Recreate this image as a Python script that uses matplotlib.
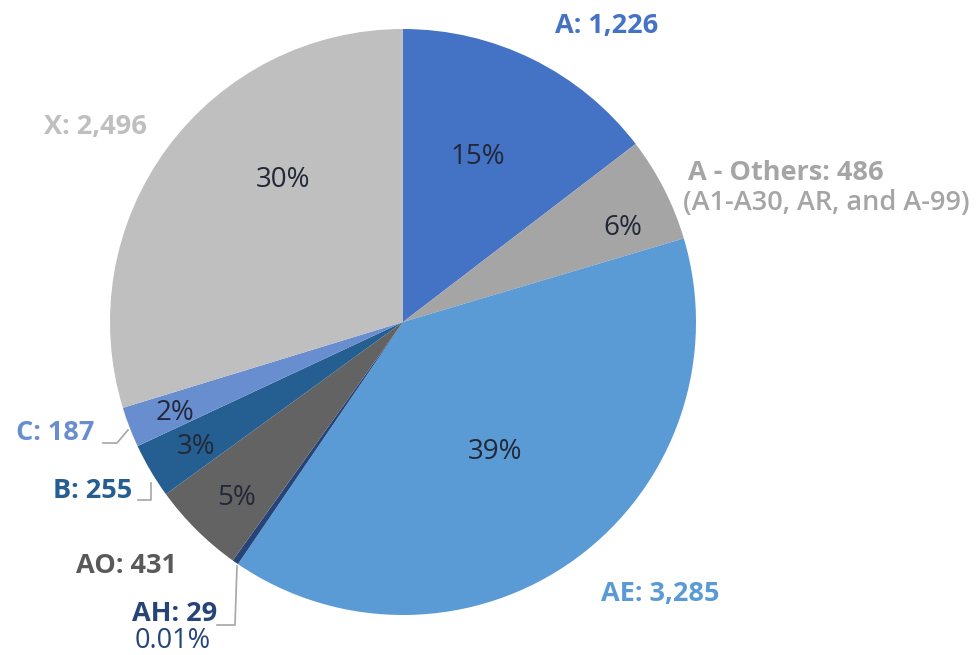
import matplotlib.pyplot as plt

# Data
labels = ['A', 'A - Others', 'AE', 'AH', 'AO', 'B', 'C', 'X']
values = [1226, 486, 3285, 29, 431, 255, 187, 2496]
pct_text = ['15%', '6%', '39%', '', '5%', '3%', '2%', '30%']
colors = ['#4472C4', '#A5A5A5', '#5B9BD5', '#264478', '#636363',
          '#255E91', '#698ED0', '#BFBFBF']
label_colors = ['#4472C4', '#A5A5A5', '#5B9BD5', '#264478', '#595959',
                '#255E91', '#698ED0', '#BFBFBF']

plt.rcParams['font.family'] = ['Open Sans', 'DejaVu Sans']

W, H = 980, 655
cx, cy, R = 403, 322, 293


def pu(px, py):
    # pixel -> pie units (center 0,0, radius 1)
    return (px - cx) / R, (cy - py) / R


fig = plt.figure(figsize=(W / 100, H / 100), dpi=100)
ax = fig.add_axes([0, 0, 1, 1])

wedges, _ = ax.pie(values, colors=colors, startangle=90, counterclock=False,
                   radius=1, wedgeprops=dict(linewidth=0))

# pie() resets the limits, so set them afterwards
ax.set_xlim(-cx / R, (W - cx) / R)
ax.set_ylim(-(H - cy) / R, cy / R)
ax.set_aspect('equal')
ax.axis('off')

# percent labels inside slices
pct_pos = [(478, 157), (623, 228), (495, 452), None, (237, 498),
           (196, 447), (175, 413), (283, 180)]
for t, p in zip(pct_text, pct_pos):
    if p is None:
        continue
    x, y = pu(*p)
    ax.text(x, y, t, ha='center', va='center', fontsize=20, color='#232838')

# outer category labels
def lab(i, px, py, text, ha='center', size=19.5, weight='bold'):
    x, y = pu(px, py)
    ax.text(x, y, text, ha=ha, va='center', fontsize=size,
            fontweight=weight, color=label_colors[i])

lab(0, 607, 26, 'A: 1,226')
lab(1, 688, 173, 'A - Others: 486', ha='left')
lab(1, 683, 203, '(A1-A30, AR, and A-99)', ha='left', weight='semibold')
lab(2, 660, 594, 'AE: 3,285')
lab(3, 217, 614, 'AH: 29', ha='right')
lab(3, 173, 641, '0.01%', weight='normal')
lab(4, 177, 566, 'AO: 431', ha='right')
lab(5, 132, 491, 'B: 255', ha='right')
lab(6, 94, 433, 'C: 187', ha='right')
lab(7, 147, 127, 'X: 2,496', ha='right')

# leader lines
leaders = [
    [(103, 443), (117, 443), (128, 430)],
    [(138, 500), (151, 500), (151, 483)],
    [(217, 625), (235, 625), (237, 566)],
]
for pts in leaders:
    xs, ys = zip(*[pu(*p) for p in pts])
    ax.plot(xs, ys, color='#A6A6A6', lw=1.2)

fig.savefig('out.png', dpi=100)
